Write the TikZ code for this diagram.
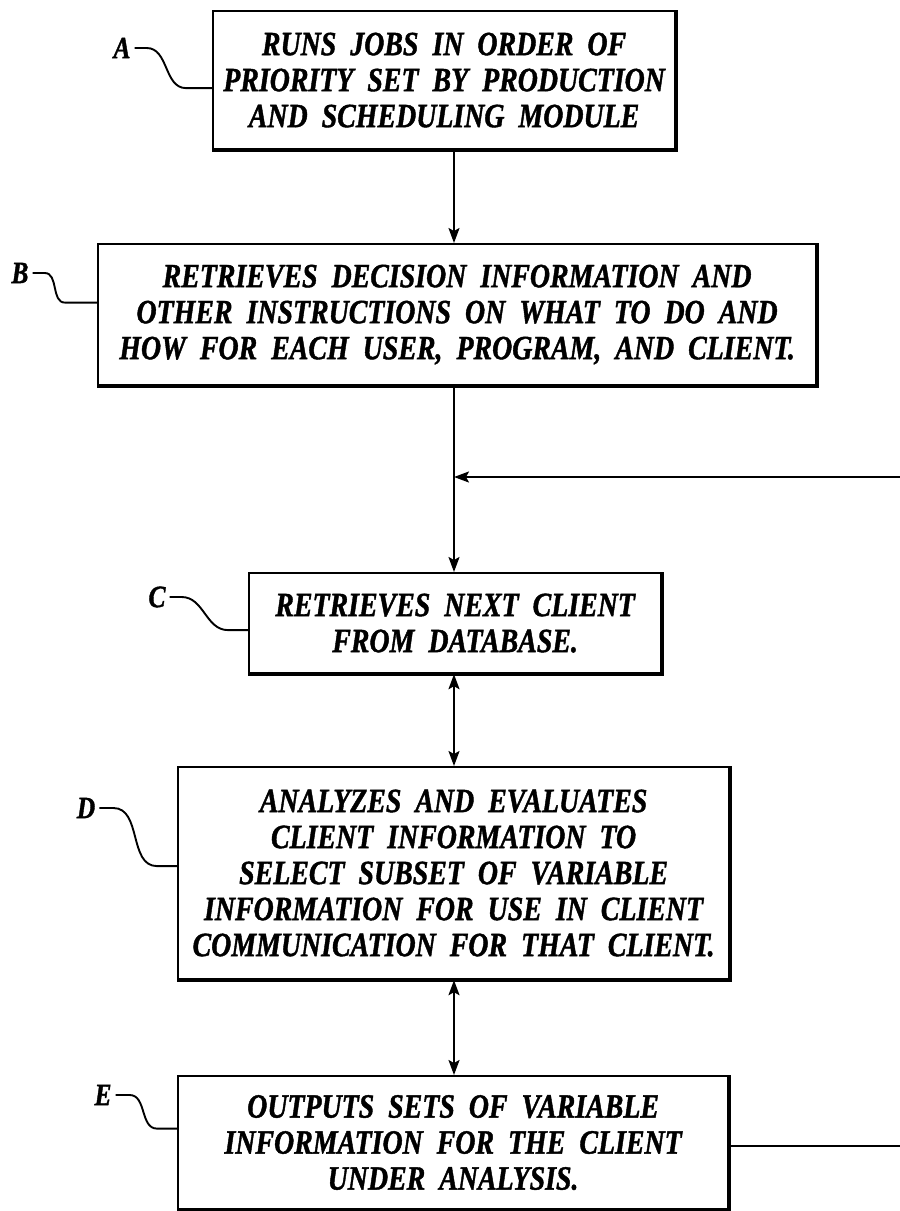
\documentclass[tikz,border=0pt]{standalone}
\usepackage{fontspec}
\setmainfont{Liberation Serif}[FakeStretch=0.82, BoldItalicFeatures={FakeBold=1.2}]
\usetikzlibrary{arrows.meta,calc}

% fonts for the step boxes and their reference letters
\newcommand\stepfont{\fontsize{34}{36}\selectfont\bfseries\itshape\spaceskip=14pt plus 2pt minus 2pt\relax}
\newcommand\tagfont{\fontsize{31}{32}\selectfont\bfseries\itshape}

\tikzset{
  stepbox/.style={draw, line width=2.2pt, inner sep=0pt, font=\stepfont,
                  align=center, anchor=north west},
  edge shade/.style={line width=4pt, line join=miter},
  tag/.style={font=\tagfont, inner sep=0pt},
  lead/.style={line width=1.9pt},
  tip/.tip={Stealth[length=15pt,width=11pt,inset=3pt]},
  flow/.style={line width=2pt, -tip},
  twoway/.style={line width=2pt, tip-tip},
  loop/.style={line width=2pt}
}

\begin{document}
\begin{tikzpicture}[x=1pt,y=-1pt]
  \fill[white] (0,0) rectangle (900,1211);
  \useasboundingbox (0,0) rectangle (900,1211);

  % process steps
  \node[stepbox, minimum width=462pt, minimum height=138pt] (A) at (212,10)
    {RUNS JOBS IN ORDER OF\\PRIORITY SET BY PRODUCTION\\AND SCHEDULING MODULE};
  \node[stepbox, minimum width=718pt, minimum height=141pt] (B) at (97,243)
    {RETRIEVES DECISION INFORMATION AND\\OTHER INSTRUCTIONS ON WHAT TO DO AND\\HOW FOR EACH USER, PROGRAM, AND CLIENT.};
  \node[stepbox, minimum width=412pt, minimum height=100pt] (C) at (248,572)
    {RETRIEVES NEXT CLIENT\\FROM DATABASE.};
  \node[stepbox, minimum width=551pt, minimum height=212pt] (D) at (177,766)
    {ANALYZES AND EVALUATES\\CLIENT INFORMATION TO\\SELECT SUBSET OF VARIABLE\\INFORMATION FOR USE IN CLIENT\\COMMUNICATION FOR THAT CLIENT.};
  \node[stepbox, minimum width=550pt, minimum height=133pt] (E) at (177,1075)
    {OUTPUTS SETS OF VARIABLE\\INFORMATION FOR THE CLIENT\\UNDER ANALYSIS.};

  % heavier bottom and right edges
  \foreach \b in {A,B,C,D,E}
    \draw[edge shade] (\b.south west) -- (\b.south east) -- (\b.north east);

  % reference letters with their leader curves
  \node[tag] (tA) at (122,48) {A};
  \node[tag] (tB) at (20,273) {B};
  \node[tag] (tC) at (157,597) {C};
  \node[tag] (tD) at (86,808) {D};
  \node[tag] (tE) at (103,1095) {E};

  \draw[lead] ([xshift=4pt]tA.east) -- ++(12,0) to[out=0,in=180] ($([yshift=-8pt]A.west)+(-26,0)$) -- ([yshift=-8pt]A.west);
  \draw[lead] ([xshift=4pt]tB.east) -- ++(12,0) to[out=0,in=180] ($([yshift=12pt]B.west)+(-32,0)$) -- ([yshift=12pt]B.west);
  \draw[lead] ([xshift=4pt]tC.east) -- ++(12,0) to[out=0,in=180] ($([yshift=-7pt]C.west)+(-20,0)$) -- ([yshift=-7pt]C.west);
  \draw[lead] ([xshift=4pt]tD.east) -- ++(14,0) to[out=0,in=180] ($([yshift=7pt]D.west)+(-20,0)$) -- ([yshift=7pt]D.west);
  \draw[lead] ([xshift=4pt]tE.east) -- ++(14,0) to[out=0,in=180] ($([yshift=14pt]E.west)+(-20,0)$) -- ([yshift=14pt]E.west);

  % main flow along one vertical spine
  \coordinate (spine) at (454,0);
  \coordinate (back) at (900,477);
  \draw[flow] (A.south -| spine) -- (B.north -| spine);
  \draw[flow] (B.south -| spine) -- (C.north -| spine);
  \draw[twoway] (C.south -| spine) -- (D.north -| spine);
  \draw[twoway] (D.south -| spine) -- (E.north -| spine);

  % return path for the next client
  \draw[loop] ([yshift=-3pt]E.east) -- ([yshift=-3pt]E.east -| back);
  \draw[flow] (back) -- (back -| spine);
\end{tikzpicture}
\end{document}
